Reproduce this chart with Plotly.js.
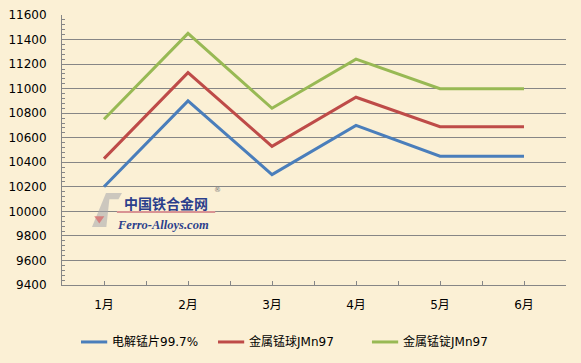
<!DOCTYPE html>
<html><head><meta charset="utf-8">
<script src="https://cdn.plot.ly/plotly-3.0.1.min.js"></script>
<style>html,body{margin:0;padding:0;background:#FBF0D5;}#chart{width:581px;height:363px;}</style>
</head><body><div id="chart"></div>
<script>
var months = ['1月','2月','3月','4月','5月','6月'];
var seriesNames = ['电解锰片99.7%','金属锰球JMn97','金属锰锭JMn97'];
var mnFlake = [10200,10900,10300,10700,10450,10450];
var mnBall = [10430,11130,10530,10930,10690,10690];
var mnIngot = [10750,11450,10840,11240,11000,11000];
var yTicks = [9400,9600,9800,10000,10200,10400,10600,10800,11000,11200,11400,11600];
var colors = ['#4A7EBB','#BE4B48','#98B954'];
var font = "'DejaVu Sans', 'Noto Sans CJK SC', sans-serif";

var vals = [mnFlake, mnBall, mnIngot];
var traces = vals.map(function(v,i){
  return {x: months, y: v, name: seriesNames[i], type:'scatter', mode:'lines',
    line:{color:colors[i], width:3}, xaxis:'x', yaxis:'y', showlegend:false};
});
traces.push({x: months, y: mnFlake, xaxis:'x2', yaxis:'y', mode:'lines', line:{width:0}, showlegend:false, hoverinfo:'skip', opacity:0});

// manual legend (positions in paper coords)
var legX = [0.0377, 0.3095, 0.615];
var legLen = 0.052;
var legY = -0.211;
var shapes = [
  {type:'path', xref:'paper', yref:'paper', path:'M 0.0595,0.2148 L 0.0873,0.3407 L 0.119,0.3407 L 0.112,0.318 L 0.094,0.318 L 0.088,0.2148 Z',
    fillcolor:'rgba(165,165,172,0.55)', line:{width:0}, layer:'above'},
  {type:'path', xref:'paper', yref:'paper', path:'M 0.064,0.255 L 0.084,0.255 L 0.074,0.228 Z',
    fillcolor:'rgba(215,110,110,0.8)', line:{width:0}, layer:'above'},
  {type:'line', xref:'paper', yref:'paper', x0:0.109, x1:0.304, y0:0.27, y1:0.27, line:{color:'#D99393', width:2}, layer:'above'}
];
var annotations = [
  {text:'<b>中国铁合金网</b>', xref:'paper', yref:'paper', x:0.121, y:0.302, xanchor:'left', yanchor:'middle', showarrow:false,
    font:{family:"'Noto Sans CJK SC', sans-serif", size:14, color:'#2B3F8C'}, borderpad:0},
  {text:'<b><i>Ferro-Alloys.com</i></b>', xref:'paper', yref:'paper', x:0.107, y:0.224, xanchor:'left', yanchor:'middle', showarrow:false,
    font:{family:"'Liberation Serif', serif", size:12.5, color:'#2B3F8C'}, borderpad:0},
  {text:'®', xref:'paper', yref:'paper', x:0.3, y:0.352, xanchor:'left', yanchor:'middle', showarrow:false,
    font:{family:font, size:7, color:'#777'}, borderpad:0}
];
for (var i=0;i<3;i++){
  shapes.push({type:'line', xref:'paper', yref:'paper', x0:legX[i], x1:legX[i]+legLen, y0:legY, y1:legY,
    line:{color:colors[i], width:3}});
  annotations.push({text:seriesNames[i], xref:'paper', yref:'paper', x:legX[i]+legLen+0.006, y:legY,
    xanchor:'left', yanchor:'middle', showarrow:false, font:{family:font, size:12, color:'#000'}});
}

var layout = {
  width:581, height:363,
  margin:{l:62, r:15, t:15, b:78},
  paper_bgcolor:'#FBF0D5', plot_bgcolor:'rgba(0,0,0,0)',
  font:{family:font, size:12, color:'#000'},
  showlegend:false,
  xaxis:{type:'category', range:[-0.5,5.5], showgrid:false, showline:true, linecolor:'#868686', linewidth:1,
    ticks:'inside', ticklen:4, tickcolor:'#868686', tickfont:{family:font,size:12}, zeroline:false, ticklabelstandoff:9, automargin:false},
  xaxis2:{type:'category', overlaying:'x', matches:'x', range:[-0.5,5.5], side:'bottom', anchor:'y', showgrid:false, showline:false,
    tickson:'boundaries', ticks:'inside', ticklen:4, tickcolor:'#868686', showticklabels:false, zeroline:false, automargin:false},
  yaxis:{range:[9400,11600], tickvals:yTicks, ticktext:yTicks.map(String), showgrid:true, gridcolor:'#868686', gridwidth:1,
    showline:true, linecolor:'#868686', linewidth:1, ticks:'inside', ticklen:4, tickcolor:'#868686',
    minor:{dtick:40, ticks:'inside', ticklen:3, tickcolor:'#868686', showgrid:false},
    zeroline:false, tickfont:{family:font,size:12}, ticklabelstandoff:12, automargin:false},
  shapes: shapes,
  annotations: annotations
};
Plotly.newPlot('chart', traces, layout, {displayModeBar:false, staticPlot:true});
</script></body></html>
